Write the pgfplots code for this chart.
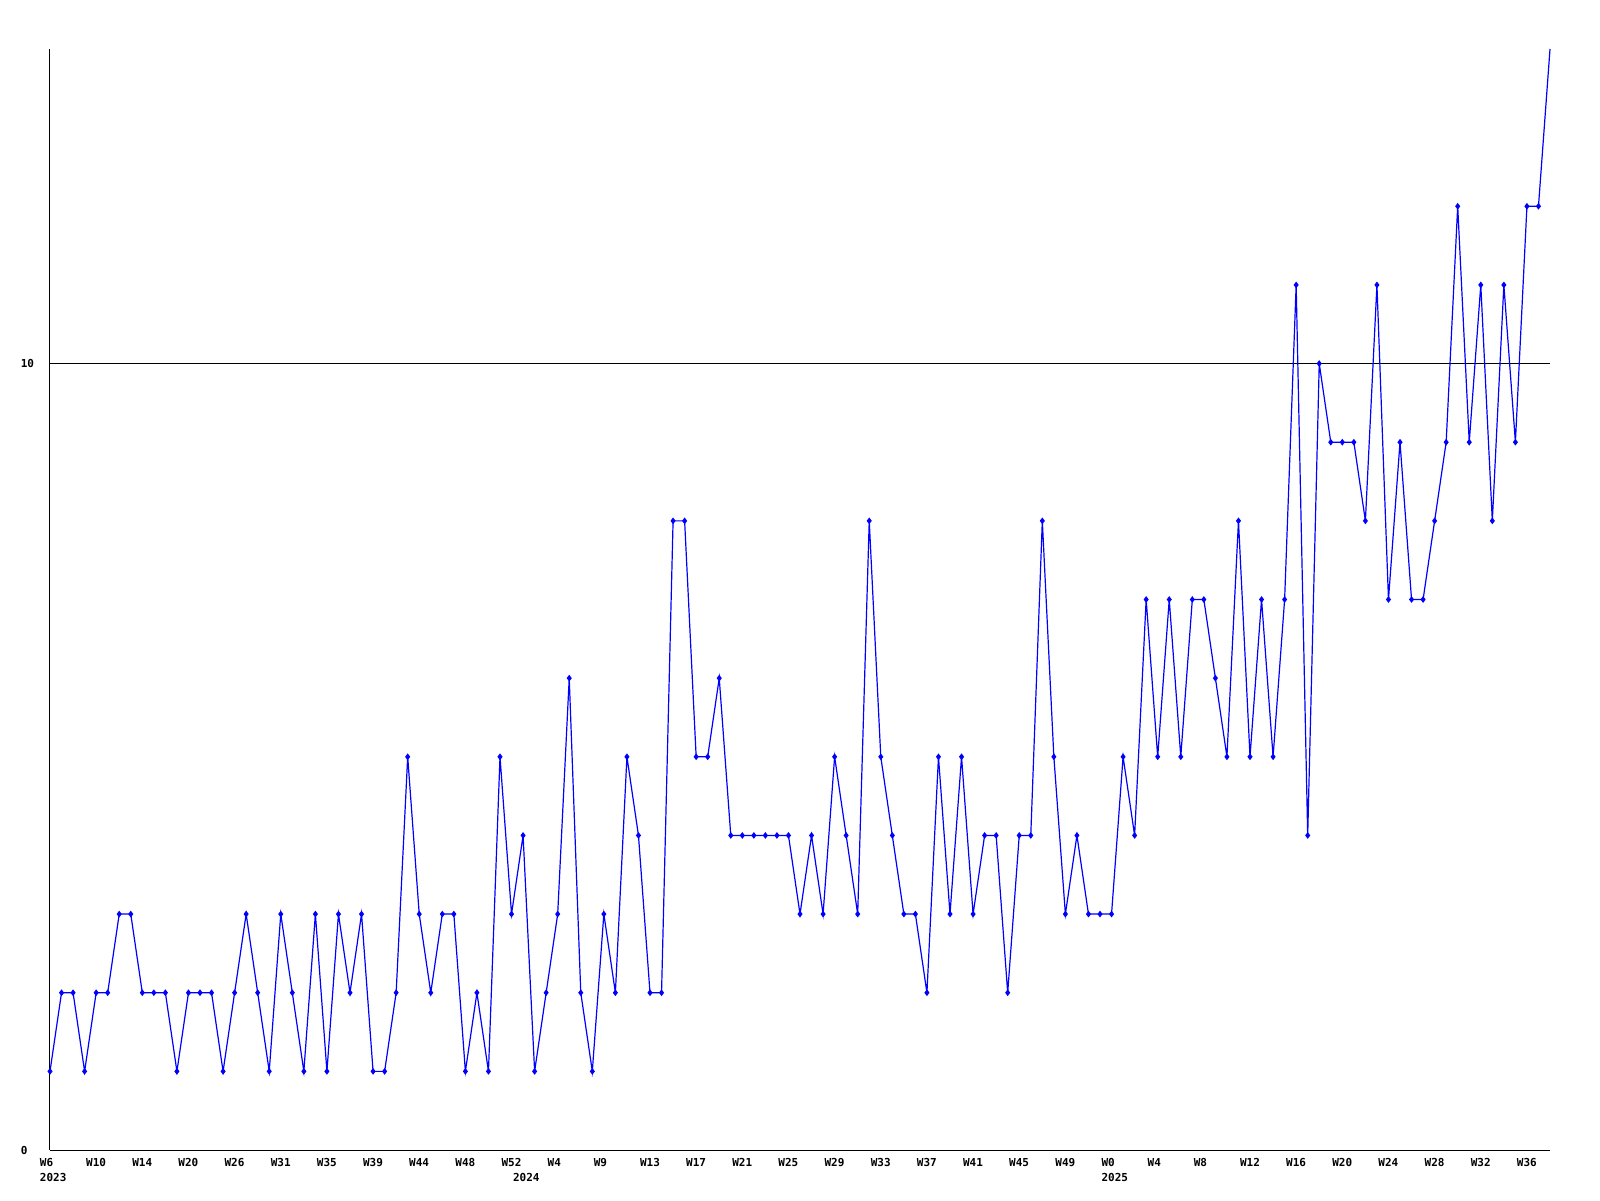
\documentclass[border=0pt]{standalone}
\usepackage{fontspec}
\usepackage{pgfplots}
\pgfplotsset{compat=1.18}
\newfontfamily\monob{DejaVu Sans Mono}
\newcommand\lblfont{\monob\bfseries\fontsize{5.5}{6}\selectfont}
\definecolor{lineblue}{RGB}{0,0,255}
\begin{document}
\begin{tikzpicture}
\useasboundingbox (-25pt,-25pt) rectangle (775pt,575pt);
\begin{axis}[
  at={(0pt,0pt)}, anchor=south west,
  scale only axis, width=750pt, height=550.5pt,
  xmin=0, xmax=130, ymin=0, ymax=14,
  clip=false,
  axis x line*=bottom, axis y line*=left,
  axis line style={-, black, line width=0.5pt},
  major tick length=0pt,
  ytick={0,10}, yticklabels={0,10},
  ymajorgrids, grid style={black, line width=0.5pt},
  xtick={0,4,...,128},
  xticklabels={W6,W10,W14,W20,W26,W31,W35,W39,W44,W48,W52,W4,W9,W13,W17,W21,W25,W29,W33,W37,W41,W45,W49,W0,W4,W8,W12,W16,W20,W24,W28,W32,W36},
  extra x ticks={0,41,92},
  extra x tick labels={2023,2024,2025},
  extra x tick style={xticklabel style={yshift=-7.2pt}},
  xticklabel style={font=\lblfont, anchor=north west, inner sep=0pt, yshift=-4.15pt, xshift=-5.2pt},
  yticklabel style={font=\lblfont, anchor=west, inner sep=0pt, xshift=-14.8pt},
]
\addplot[color=lineblue, line width=0.6pt, mark=diamond*, mark size=1.2pt, mark options={solid}] coordinates {
(0,1)(1,2)(2,2)(3,1)(4,2)(5,2)(6,3)(7,3)(8,2)(9,2)
(10,2)(11,1)(12,2)(13,2)(14,2)(15,1)(16,2)(17,3)(18,2)(19,1)
(20,3)(21,2)(22,1)(23,3)(24,1)(25,3)(26,2)(27,3)(28,1)(29,1)
(30,2)(31,5)(32,3)(33,2)(34,3)(35,3)(36,1)(37,2)(38,1)(39,5)
(40,3)(41,4)(42,1)(43,2)(44,3)(45,6)(46,2)(47,1)(48,3)(49,2)
(50,5)(51,4)(52,2)(53,2)(54,8)(55,8)(56,5)(57,5)(58,6)(59,4)
(60,4)(61,4)(62,4)(63,4)(64,4)(65,3)(66,4)(67,3)(68,5)(69,4)
(70,3)(71,8)(72,5)(73,4)(74,3)(75,3)(76,2)(77,5)(78,3)(79,5)
(80,3)(81,4)(82,4)(83,2)(84,4)(85,4)(86,8)(87,5)(88,3)(89,4)
(90,3)(91,3)(92,3)(93,5)(94,4)(95,7)(96,5)(97,7)(98,5)(99,7)
(100,7)(101,6)(102,5)(103,8)(104,5)(105,7)(106,5)(107,7)(108,11)(109,4)
(110,10)(111,9)(112,9)(113,9)(114,8)(115,11)(116,7)(117,9)(118,7)(119,7)
(120,8)(121,9)(122,12)(123,9)(124,11)(125,8)(126,11)(127,9)(128,12)(129,12)
};
\addplot[color=lineblue, line width=0.6pt, no marks] coordinates {
(129,12)(130,14)
};
\end{axis}
\end{tikzpicture}
\end{document}
